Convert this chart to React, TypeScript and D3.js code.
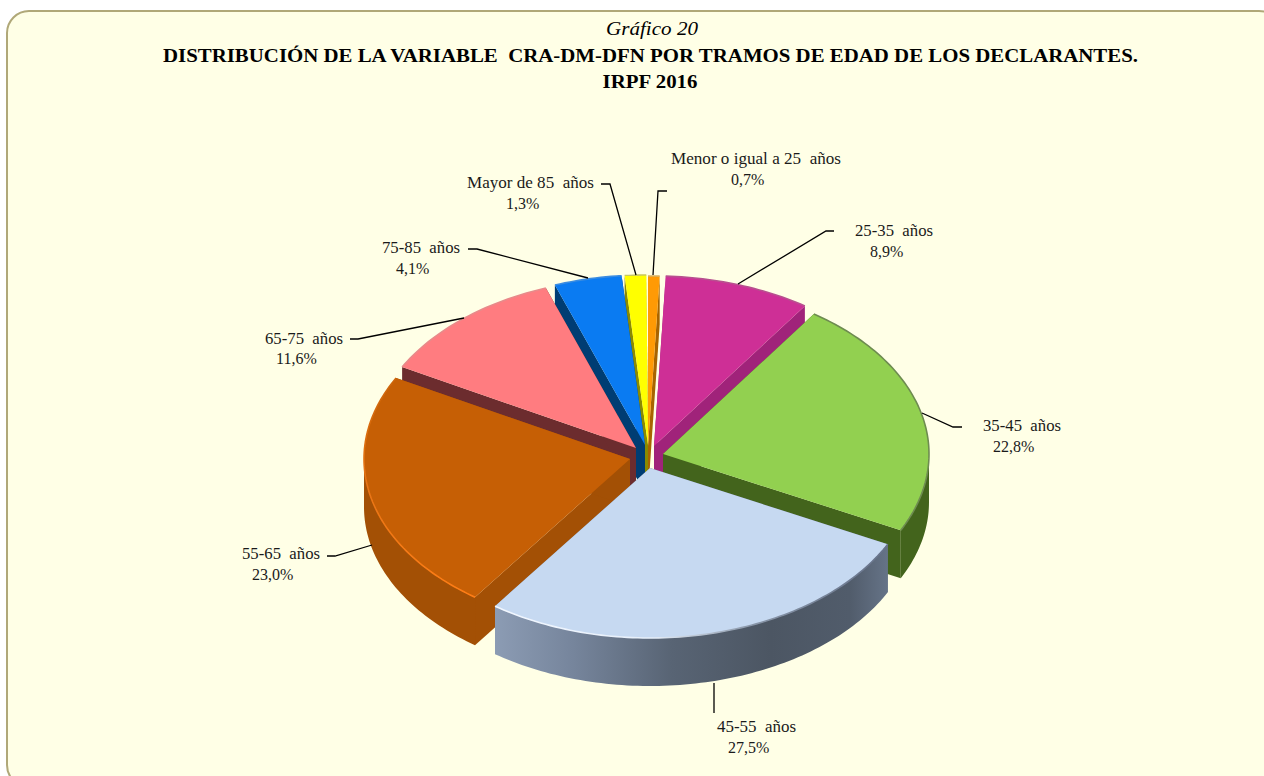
import React from "react";
import * as d3 from "d3";

// ---- data ----
const categories = [
  "Menor o igual a 25\u00A0\u00A0años", "25-35\u00A0\u00A0años", "35-45\u00A0\u00A0años", "45-55\u00A0\u00A0años",
  "55-65\u00A0\u00A0años", "65-75\u00A0\u00A0años", "75-85\u00A0\u00A0años", "Mayor de 85\u00A0\u00A0años",
];
const percentLabels = ["0,7%", "8,9%", "22,8%", "27,5%", "23,0%", "11,6%", "4,1%", "1,3%"];
const shares = [0.7, 8.9, 22.8, 27.5, 23.0, 11.6, 4.1, 1.3];

const chartNumber = "Gráfico 20";
const titleLines = [
  "DISTRIBUCIÓN DE LA VARIABLE\u00A0 CRA-DM-DFN POR TRAMOS DE EDAD DE LOS DECLARANTES.",
  "IRPF 2016",
];

// ---- style / layout (kept apart from the data) ----
const topColors = ["#FF9A05", "#CE2F96", "#92D050", "#C6D9F1", "#C65F05", "#FF7C80", "#0A7BF2", "#FFFF00"];
const wallColors = ["#A86400", "#A0237A", "#43641C", "url(#wallBlue)", "#A35005", "#6C2C2E", "#003D73", "#8A8A00"];
const rimColors = ["#D8B060", "#B8508F", "#6E8C50", "url(#rimBlue)", "url(#rimOrange)", "#E88A8A", "#3B8CE0", "#C8C860"];
const apexX = [648, 654, 663, 650, 630, 636, 645, 648];
const apexY = [446, 446, 454, 468, 459, 448, 445, 445];
const paintOrder = [7, 0, 6, 1, 5, 2, 4, 3];
const RX = 266, RY = 170, DEPTH = 48;

const labelStartX = [[671, 731], [855, 870], [983, 993], [717, 728], [242, 252], [265, 276], [382, 396], [467, 506]];
const labelBaseY = [[164, 185], [236, 257], [431, 452], [732, 753], [559, 580], [344, 364], [253, 274], [188, 209]];
const labelWidth = [170, 78, 78, 79, 78, 78, 78, 127];
const leaderX = [[667, 658, 653], [834, 826, 738], [962, 953, 922], [714, 714, 714], [327, 335, 372], [350, 358, 464], [468, 477, 588], [601, 610, 636]];
const leaderY = [[191, 191, 275], [231, 231, 284], [427, 427, 413], [713, 713, 683], [556, 556, 545], [339, 339, 318], [249, 249, 278], [184, 184, 275]];

const pieLayout = d3.pie<number>().sort(null).value((d) => d)
  .startAngle(0).endAngle((2 * Math.PI * d3.sum(shares)) / 100);
const arcs = pieLayout(shares);

const xUnit = d3.scaleLinear().domain([-1, 1]).range([-RX, RX]);
const yUnit = d3.scaleLinear().domain([-1, 1]).range([-RY, RY]);
const pt = (i: number, a: number, dy = 0): [number, number] => [
  apexX[i] + xUnit(Math.sin(a)),
  apexY[i] + yUnit(-Math.cos(a)) + dy,
];
const arcPts = (i: number, a0: number, a1: number, dy = 0): [number, number][] => {
  const n = Math.max(2, Math.ceil(Math.abs(a1 - a0) / 0.02));
  return d3.range(n + 1).map((k) => pt(i, a0 + ((a1 - a0) * k) / n, dy));
};
const line = d3.line();
const closed = (pts: [number, number][]) => line(pts) + "Z";

function Slice({ i }: { i: number }) {
  const a0 = arcs[i].startAngle, a1 = arcs[i].endAngle;
  const apex: [number, number] = [apexX[i], apexY[i]];
  const apexLow: [number, number] = [apexX[i], apexY[i] + DEPTH];
  const face = (a: number) => closed([apex, pt(i, a), pt(i, a, DEPTH), apexLow]);
  const v0 = Math.max(a0, Math.PI / 2), v1 = Math.min(a1, (3 * Math.PI) / 2);
  const outer = v1 > v0
    ? closed([...arcPts(i, v0, v1), ...arcPts(i, v1, v0, DEPTH)])
    : null;
  const top = closed([apex, ...arcPts(i, a0, a1)]);
  const rim = line(arcPts(i, a0, a1));
  const wall = wallColors[i];
  return (
    <g>
      <path d={face(a0)} fill={wall} />
      <path d={face(a1)} fill={wall} />
      {outer && <path d={outer} fill={wall} />}
      <path d={top} fill={topColors[i]} />
      <path d={rim!} fill="none" stroke={rimColors[i]} strokeWidth={1.6} filter="url(#soft)" />
    </g>
  );
}

export default function App() {
  const serif = "'Liberation Serif', 'Times New Roman', serif";
  return (
    <svg width={1264} height={776} viewBox="0 0 1264 776"
      style={{ position: "absolute", left: 0, top: 0, display: "block" }}>
      <defs>
        <filter id="soft" x="-5%" y="-5%" width="110%" height="110%">
          <feGaussianBlur stdDeviation="0.6" />
        </filter>
        <linearGradient id="wallBlue" gradientUnits="userSpaceOnUse" x1={494} x2={889} y1={0} y2={0}>
          <stop offset="0" stopColor="#8C9CB4" />
          <stop offset="0.2" stopColor="#76859C" />
          <stop offset="0.45" stopColor="#586474" />
          <stop offset="0.7" stopColor="#4C5663" />
          <stop offset="0.9" stopColor="#515C6B" />
          <stop offset="1" stopColor="#667488" />
        </linearGradient>
        <linearGradient id="rimBlue" gradientUnits="userSpaceOnUse" x1={494} x2={889} y1={0} y2={0}>
          <stop offset="0" stopColor="#F2F7FF" />
          <stop offset="0.4" stopColor="#E6EFFA" />
          <stop offset="0.65" stopColor="#8996A8" />
          <stop offset="1" stopColor="#66728A" />
        </linearGradient>
        <linearGradient id="rimOrange" gradientUnits="userSpaceOnUse" x1={0} x2={0} y1={378} y2={598}>
          <stop offset="0" stopColor="#CC6408" />
          <stop offset="0.5" stopColor="#E87414" />
          <stop offset="1" stopColor="#FF7D14" />
        </linearGradient>
      </defs>

      <rect x={7} y={11} width={1274} height={776} rx={22} ry={22}
        fill="#FFFFE6" stroke="#B0A878" strokeWidth={2} />

      <g fontFamily={serif} textAnchor="middle" fill="#000">
        <text x={652} y={35} fontSize={19.5} fontStyle="italic" textLength={92} lengthAdjust="spacingAndGlyphs">{chartNumber}</text>
        <text x={650.5} y={62} fontSize={19.5} fontWeight="bold" textLength={975} lengthAdjust="spacingAndGlyphs">{titleLines[0]}</text>
        <text x={650} y={88} fontSize={19.5} fontWeight="bold" textLength={95} lengthAdjust="spacingAndGlyphs">{titleLines[1]}</text>
      </g>

      {paintOrder.map((i) => <Slice key={i} i={i} />)}

      <g fill="none" stroke="#000" strokeWidth={1.3}>
        {categories.map((c, i) => (
          <path key={c} d={line(leaderX[i].map((x, k) => [x, leaderY[i][k]] as [number, number]))!} />
        ))}
      </g>

      <g fontFamily={serif} fontSize={16} fill="#1a1a1a">
        {categories.map((c, i) => (
          <g key={c}>
            <text x={labelStartX[i][0]} y={labelBaseY[i][0]} textLength={labelWidth[i]} lengthAdjust="spacingAndGlyphs">{c}</text>
            <text x={labelStartX[i][1]} y={labelBaseY[i][1]}>{percentLabels[i]}</text>
          </g>
        ))}
      </g>
    </svg>
  );
}
